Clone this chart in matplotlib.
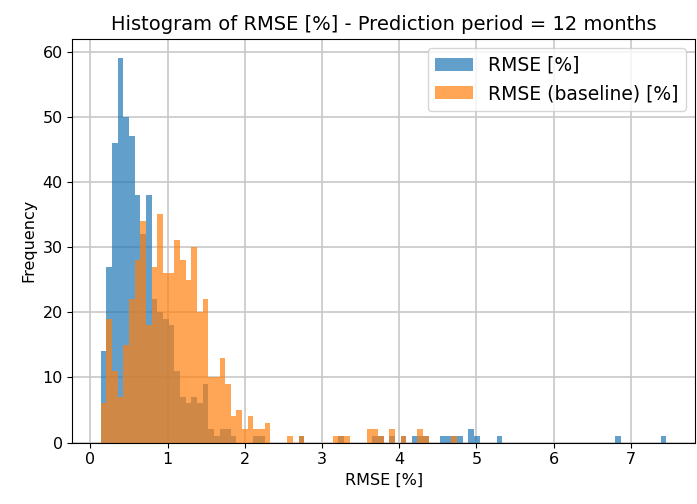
import numpy as np
import matplotlib
matplotlib.use("Agg")
import matplotlib.pyplot as plt

# shared bin range (100 bins, same edges for both series)
bin_lo, bin_hi, n_bins = 0.133, 7.46, 100

rmse_counts = [14, 27, 46, 59, 50, 47, 38, 32, 38, 22,
               20, 19, 18, 11, 7, 6, 7, 6, 9, 2,
               1, 2, 2, 1, 0, 0, 0, 1, 1, 0,
               0, 0, 0, 0, 0, 1, 0, 0, 0, 0,
               0, 0, 1, 0, 0, 0, 0, 0, 1, 1,
               0, 1, 0, 1, 0, 1, 1, 1, 0, 0,
               1, 1, 1, 1, 0, 2, 1, 0, 0, 0,
               1, 0, 0, 0, 0, 0, 0, 0, 0, 0,
               0, 0, 0, 0, 0, 0, 0, 0, 0, 0,
               0, 1, 0, 0, 0, 0, 0, 0, 0, 1]

baseline_counts = [6, 19, 11, 7, 15, 22, 28, 34, 18, 27,
                   35, 26, 26, 31, 28, 25, 30, 20, 22, 10,
                   10, 13, 9, 4, 5, 2, 4, 2, 2, 3,
                   0, 0, 0, 1, 0, 1, 0, 0, 0, 0,
                   0, 1, 1, 1, 0, 0, 0, 2, 2, 1,
                   0, 2, 0, 1, 0, 0, 2, 1, 0, 0,
                   0, 0, 1, 0, 0, 0, 0, 0, 0, 0,
                   0, 0, 0, 0, 0, 0, 0, 0, 0, 0,
                   0, 0, 0, 0, 0, 0, 0, 0, 0, 0,
                   0, 0, 0, 0, 0, 0, 0, 0, 0, 0]

labels = ["RMSE [%]", "RMSE (baseline) [%]"]

edges = np.linspace(bin_lo, bin_hi, n_bins + 1)
centers = (edges[:-1] + edges[1:]) / 2

fig = plt.figure(figsize=(6.97, 5.04), dpi=100)
ax = fig.add_axes([0.104, 0.122, 0.893, 0.801])

ax.hist(centers, bins=edges, weights=rmse_counts, color="#1f77b4", alpha=0.7, label=labels[0])
ax.hist(centers, bins=edges, weights=baseline_counts, color="#ff7f0e", alpha=0.7, label=labels[1])

ax.set_xlim(-0.233, 7.83)
ax.set_ylim(0, 61.95)
ax.set_yticks(range(0, 61, 10))
ax.grid(True, color="#c8c8c8", linewidth=1.2)
ax.set_axisbelow(True)
ax.tick_params(labelsize=11.5)

ax.set_title("Histogram of RMSE [%] - Prediction period = 12 months", fontsize=14)
ax.set_xlabel("RMSE [%]", fontsize=11.5)
ax.set_ylabel("Frequency", fontsize=11.5)
ax.legend(loc="upper right", fontsize=13.5)

fig.savefig("out.png", dpi=100)
